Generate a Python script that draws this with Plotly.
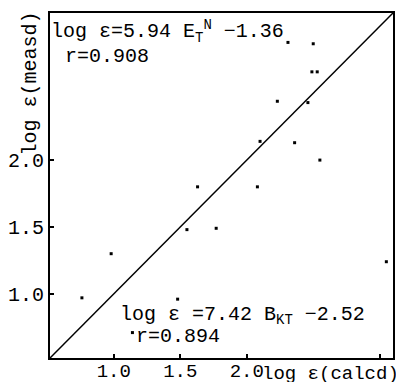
import plotly.graph_objects as go

calcd = [2.31, 2.50, 2.49, 2.53, 2.23, 2.46, 2.10, 2.36, 2.55, 1.63, 2.08,
         1.55, 1.77, 0.98, 0.76, 1.48, 3.05, 1.14]
measd = [2.88, 2.87, 2.66, 2.66, 2.44, 2.43, 2.14, 2.13, 2.00, 1.80, 1.80,
         1.48, 1.49, 1.30, 0.97, 0.96, 1.24, 0.71]

line_x = [0.52, 3.10]
line_y = [0.52, 3.10]

x_tickvals = [1.0, 1.5, 2.0, 3.0]
x_ticktext = ["1.0", "1.5", "2.0", ""]
y_tickvals = [1.0, 1.5, 2.0]
y_ticktext = ["1.0", "1.5", "2.0"]

FONT = "Liberation Mono"
FS = 20
FSX = 19

fig = go.Figure()
fig.add_trace(go.Scatter(x=line_x, y=line_y, mode="lines",
                         line=dict(color="black", width=1.5), hoverinfo="skip"))
fig.add_trace(go.Scatter(x=calcd, y=measd, mode="markers",
                         marker=dict(symbol="square", size=3, color="black")))

# the page body adds an 8px offset, so the figure is sized to fill the rest
fig.update_layout(
    width=396, height=374,
    margin=dict(l=42, r=11, t=5, b=24),
    paper_bgcolor="white", plot_bgcolor="white",
    showlegend=False,
    font=dict(family=FONT, size=FS, color="black"),
    xaxis=dict(range=[0.52, 3.10], tickvals=x_tickvals, ticktext=x_ticktext,
               ticks="inside", ticklen=4, tickwidth=1.5, tickcolor="black",
               showgrid=False, zeroline=False, showline=True, linewidth=2,
               linecolor="black", mirror=True, automargin=False,
               ticklabelstandoff=-6,
               tickfont=dict(family=FONT, size=FSX)),
    yaxis=dict(range=[0.52, 3.10], tickvals=y_tickvals, ticktext=y_ticktext,
               ticks="inside", ticklen=4, tickwidth=1.5, tickcolor="black",
               showgrid=False, zeroline=False, showline=True, linewidth=2,
               linecolor="black", mirror=True, automargin=False,
               tickfont=dict(family=FONT, size=FS)),
)

fig.add_annotation(x=0.0, y=1.0, xref="paper", yref="paper",
                   xanchor="left", yanchor="top", xshift=-1, yshift=-2,
                   text="log ε=5.94 E<sub>T</sub><sup>N</sup> −1.36",
                   showarrow=False, font=dict(family=FONT, size=FS))
fig.add_annotation(x=0.0, y=1.0, xref="paper", yref="paper",
                   xanchor="left", yanchor="top", xshift=13, yshift=-30,
                   text="r=0.908", showarrow=False, font=dict(family=FONT, size=FS))
fig.add_annotation(x=0.198, y=0.0, xref="paper", yref="paper",
                   xanchor="left", yanchor="bottom", yshift=28,
                   text="log ε =7.42 B<sub>KT</sub> −2.52",
                   showarrow=False, font=dict(family=FONT, size=FS))
fig.add_annotation(x=0.245, y=0.0, xref="paper", yref="paper",
                   xanchor="left", yanchor="bottom", yshift=8,
                   text="r=0.894", showarrow=False, font=dict(family=FONT, size=FS))
fig.add_annotation(x=1.0, y=0.0, xref="paper", yref="paper",
                   xanchor="right", yanchor="top", xshift=8, yshift=-3,
                   text="log ε(calcd)", showarrow=False, font=dict(family=FONT, size=FSX))
fig.add_annotation(x=0.0, y=1.0, xref="paper", yref="paper",
                   xanchor="right", yanchor="top", xshift=-7, yshift=4,
                   text="log ε(measd)", textangle=-90, showarrow=False,
                   font=dict(family=FONT, size=FS))

fig.write_html("out.html")
